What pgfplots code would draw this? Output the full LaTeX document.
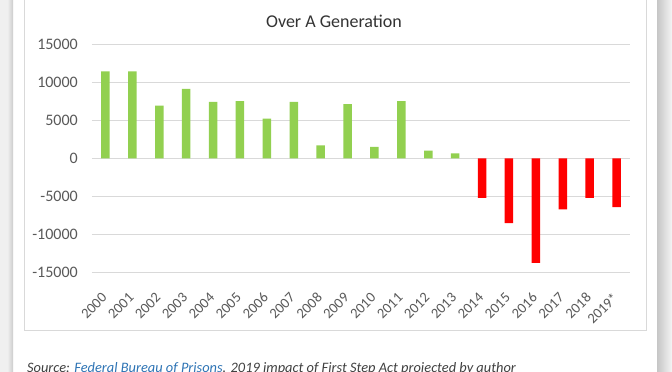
\documentclass[border=0pt]{standalone}
\usepackage{pgfplots}
\pgfplotsset{compat=1.18}
\usepackage{fontspec}
\setmainfont{Carlito}
\definecolor{xgreen}{HTML}{92D050}
\definecolor{xred}{HTML}{FF0000}
\definecolor{xgrid}{HTML}{D9D9D9}
\definecolor{xtext}{HTML}{595959}
\definecolor{xlink}{HTML}{2E74B5}
\begin{document}
\begin{tikzpicture}
\clip (0pt,0pt) rectangle (672pt,372pt);
\fill[white] (0pt,0pt) rectangle (672pt,372pt);
% shadows
\fill[gray!12] (0pt,0pt) rectangle (8pt,372pt);
\shade[left color=gray!15,right color=gray!40] (8pt,0pt) rectangle (13pt,372pt);
\shade[left color=gray!45,right color=gray!8] (657pt,0pt) rectangle (672pt,372pt);
% inner frame
\draw[xgrid,line width=0.8pt] (24pt,42pt) rectangle (646pt,380pt);
\node[font=\fontsize{18}{20}\selectfont, text=black!80, anchor=base] at (334pt,344.5pt) {Over A Generation};
\node[font=\fontsize{14.4}{16}\selectfont\itshape, text=black!75, anchor=north west, inner sep=0pt] at (27pt,10pt) {Source: \textcolor{xlink}{Federal Bureau of Prisons}. 2019 impact of First Step Act projected by author};
\begin{axis}[
  at={(92pt,99.3pt)}, anchor=south west,
  scale only axis, width=538pt, height=228.7pt,
  xmin=-0.5, xmax=19.5, ymin=-15000, ymax=15000,
  ytick={-15000,-10000,...,15000},
  scaled y ticks=false,
  xtick={0,...,19},
  xticklabels={2000,2001,2002,2003,2004,2005,2006,2007,2008,2009,2010,2011,2012,2013,2014,2015,2016,2017,2018,2019*},
  axis line style={draw=none},
  major tick length=0pt,
  ymajorgrids, grid style={xgrid, line width=0.8pt},
  /pgf/number format/assume math mode=true,
  /pgf/number format/1000 sep={},
  yticklabel style={font=\fontsize{16}{18}\selectfont, text=xtext, anchor=east, inner sep=0pt, xshift=-14pt},
  xticklabel style={font=\fontsize{14.5}{16}\selectfont, text=xtext, rotate=45, anchor=east, inner sep=0pt, xshift=-16.6pt, yshift=-15.2pt},
  ybar, bar width=8.5pt,
]
\addplot[fill=xgreen, draw=none, bar shift=0pt] coordinates {
(0,11400) (1,11400) (2,6900) (3,9100) (4,7400) (5,7500) (6,5200) (7,7400) (8,1700) (9,7100) (10,1500) (11,7500) (12,1000) (13,650)};
\addplot[fill=xred, draw=none, bar shift=0pt] coordinates {
(14,-5200) (15,-8500) (16,-13700) (17,-6700) (18,-5200) (19,-6400)};
\end{axis}
\end{tikzpicture}
\end{document}
